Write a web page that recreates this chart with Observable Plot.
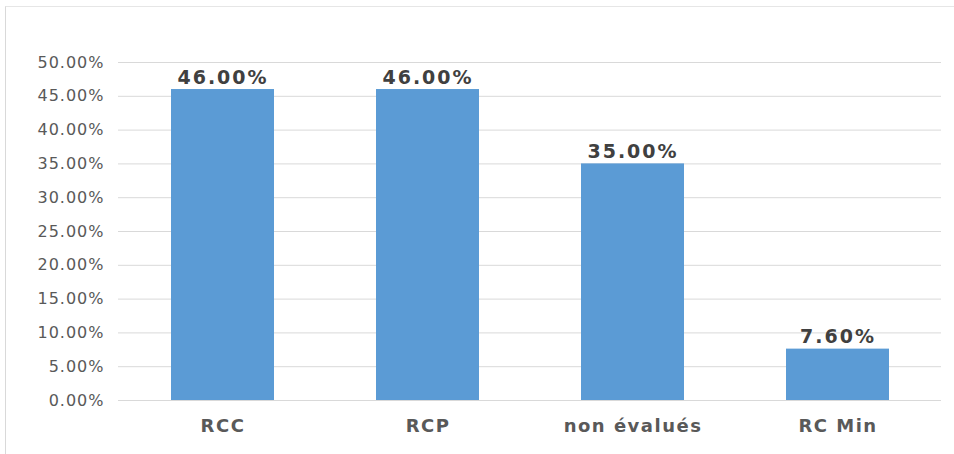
<!DOCTYPE html>
<html>
<head>
<meta charset="utf-8">
<script src="https://cdn.jsdelivr.net/npm/d3@7"></script>
<script src="https://cdn.jsdelivr.net/npm/@observablehq/plot@0.6"></script>
<style>
  html, body { margin: 0; padding: 0; background: #fff; }
  #frame { position: absolute; left: 5px; top: 6px; width: 960px; height: 460px;
           border-left: 1px solid #d9d9d9; border-top: 1px solid #e6e6e6; box-sizing: border-box; }
  #chart { position: absolute; left: 0; top: 0; }
  g[aria-label="y-axis tick label"] text { letter-spacing: 1px; }
  g[aria-label="x-axis tick label"] text { letter-spacing: 1.5px; }
  g[aria-label="text"] text { letter-spacing: 2px; }
</style>
</head>
<body>
<div id="frame"></div>
<div id="chart"></div>
<script>
const categories = ["RCC", "RCP", "non évalués", "RC Min"];
const values = [0.46, 0.46, 0.35, 0.076];
const yTicks = [0, 0.05, 0.10, 0.15, 0.20, 0.25, 0.30, 0.35, 0.40, 0.45, 0.50];

const data = categories.map((c, i) => ({category: c, value: values[i]}));
const fmt = d3.format(".2%");

const chart = Plot.plot({
  width: 954,
  height: 454,
  marginLeft: 118,
  marginRight: 13,
  marginTop: 62,
  marginBottom: 54,
  style: {fontFamily: "DejaVu Sans, Verdana, sans-serif", background: "transparent", overflow: "visible"},
  x: {domain: categories, paddingInner: 0.5, paddingOuter: 0.25, label: null},
  y: {domain: [0, 0.5], label: null},
  marks: [
    Plot.gridY(yTicks, {stroke: "#d9d9d9", strokeOpacity: 1, strokeWidth: 1}),
    Plot.barY(data, {x: "category", y: "value", fill: "#5b9bd5"}),
    Plot.text(data, {x: "category", y: "value", text: d => fmt(d.value), lineAnchor: "bottom", dy: -6,
      fontSize: 19, fontWeight: "bold", fill: "#404040"}),
    Plot.axisY(yTicks, {tickFormat: fmt, tickSize: 0, tickPadding: 14, fontSize: 16, fill: "#595959", label: null}),
    Plot.axisX({tickSize: 0, tickPadding: 19, fontSize: 18, fontWeight: "bold", fill: "#595959", label: null})
  ]
});
document.getElementById("chart").appendChild(chart);
</script>
</body>
</html>
